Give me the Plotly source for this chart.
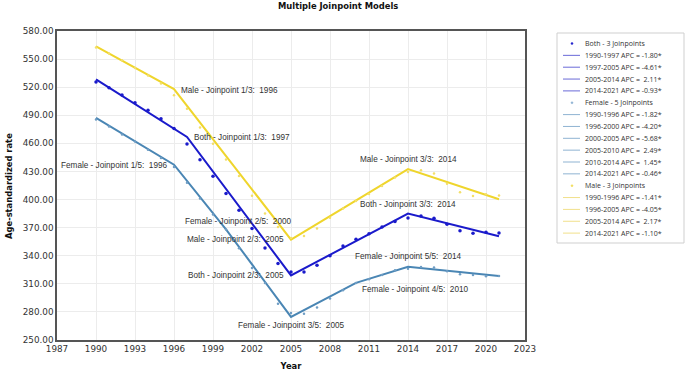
import plotly.graph_objects as go

# ---------------- data ----------------
years = list(range(1990, 2022))

both_obs = [525.5, 519.5, 511.6, 503.5, 495.3, 486.4, 476.0, 459.3, 442.6, 425.0,
            406.4, 388.5, 369.0, 348.3, 331.6, 322.6, 322.6, 329.8, 340.0, 350.4,
            357.5, 363.6, 370.7, 376.5, 380.3, 382.5, 380.0, 373.6, 366.8, 364.0,
            365.0, 364.3]
female_obs = [485.4, 478.0, 469.5, 461.9, 453.3, 444.5, 434.8, 418.0, 401.0, 384.0,
              368.0, 348.0, 327.0, 311.0, 288.8, 278.8, 278.0, 284.6, 294.2, 303.0,
              311.0, 315.0, 319.5, 324.4, 326.2, 328.0, 327.3, 323.5, 320.2, 319.4,
              318.2, 318.4]
male_obs = [562.5, 556.0, 548.7, 540.5, 532.5, 523.8, 511.3, 497.0, 477.0, 459.7,
            442.7, 425.2, 404.0, 385.0, 370.7, 359.0, 361.0, 369.0, 380.5, 390.4,
            398.5, 406.0, 414.5, 423.5, 429.5, 431.3, 427.7, 417.0, 407.7, 403.8,
            405.6, 404.2]

both_jp_years = [1990, 1997, 2005, 2014, 2021]
both_fit = [528.4, 466.8, 319.0, 385.0, 360.7]
female_jp_years = [1990, 1996, 2000, 2005, 2010, 2014, 2021]
female_fit = [487.3, 437.2, 368.2, 274.6, 311.0, 328.3, 318.4]
male_jp_years = [1990, 1996, 2005, 2014, 2021]
male_fit = [563.7, 518.0, 357.2, 432.5, 400.3]

both_apc = ["-1.80*", "-4.61*", " 2.11*", "-0.93*"]
female_apc = ["-1.82*", "-4.20*", "-5.68*", " 2.49*", " 1.45*", "-0.46*"]
male_apc = ["-1.41*", "-4.05*", " 2.17*", "-1.10*"]

x_ticks = list(range(1987, 2024, 3))
y_ticks = list(range(250, 581, 30))

# ---------------- style ----------------
C_BOTH = "#1a1acb"
C_FEM = "#4a86b4"
C_MALE = "#efd52c"
TXT = "#333333"
W, H = 685, 372
L, R, T, B = 57, 160, 31, 32
PW, PH = W - L - R, H - T - B

fig = go.Figure()

def add_series(name, obs, jy, fit, color, msize, mcolor):
    fig.add_trace(go.Scatter(x=jy, y=fit, mode="lines", name=name + " fit",
                             line=dict(color=color, width=2), showlegend=False,
                             hoverinfo="skip"))
    fig.add_trace(go.Scatter(x=years, y=obs, mode="markers", name=name,
                             marker=dict(color=mcolor, size=msize), showlegend=False))

add_series("Male", male_obs, male_jp_years, male_fit, C_MALE, 2.5, "#f3df6a")
add_series("Female", female_obs, female_jp_years, female_fit, C_FEM, 2.5, "#6f9dc4")
add_series("Both", both_obs, both_jp_years, both_fit, C_BOTH, 3.5, C_BOTH)

# joinpoint labels
def jp_label(text, x, y, xanchor, xshift, yshift):
    fig.add_annotation(x=x, y=y, xref="x", yref="y", text=text, showarrow=False,
                       xanchor=xanchor, yanchor="middle", xshift=xshift, yshift=yshift,
                       font=dict(family="Liberation Sans, Arial", size=8.2, color=TXT))

jp_label("Male - Joinpoint 1/3:  1996", male_jp_years[1], male_fit[1], "left", 5, -1)
jp_label("Both - Joinpoint 1/3:  1997", both_jp_years[1], both_fit[1], "left", 5, 0)
jp_label("Female - Joinpoint 1/5:  1996", female_jp_years[1], female_fit[1], "right", -5, -1)
jp_label("Female - Joinpoint 2/5:  2000", female_jp_years[2], female_fit[2], "center", 12, 8)
jp_label("Male - Joinpoint 2/3:  2005", male_jp_years[2], male_fit[2], "right", -5, 0)
jp_label("Both - Joinpoint 2/3:  2005", both_jp_years[2], both_fit[2], "right", -5, 0)
jp_label("Female - Joinpoint 3/5:  2005", female_jp_years[3], female_fit[3], "center", 0, -9)
jp_label("Female - Joinpoint 4/5:  2010", female_jp_years[4], female_fit[4], "left", 4, -7)
jp_label("Female - Joinpoint 5/5:  2014", female_jp_years[5], female_fit[5], "center", 0, 10)
jp_label("Both - Joinpoint 3/3:  2014", both_jp_years[3], both_fit[3], "center", 0, 9)
jp_label("Male - Joinpoint 3/3:  2014", male_jp_years[3], male_fit[3], "center", 0, 10)

# ---------------- manual legend ----------------
def px(xp):
    return (xp - L) / PW

def py(yp):
    return (H - B - yp) / PH

shapes = []
shapes.append(dict(type="rect", xref="paper", yref="paper",
                   x0=px(557), x1=px(684), y0=py(33), y1=py(243),
                   line=dict(color="#cfcfcf", width=1), fillcolor="white", layer="below"))

rows = []
def seg_rows(jy, apcs, color):
    out = []
    for i, a in enumerate(apcs):
        out.append(("line", f"{jy[i]}-{jy[i+1]} APC = {a}", color))
    return out

rows.append(("dot", "Both - 3 Joinpoints", C_BOTH))
rows += seg_rows(both_jp_years, both_apc, "#6a6ad8")
rows.append(("dot", "Female - 5 Joinpoints", "#8fb3d2"))
rows += seg_rows(female_jp_years, female_apc, "#8fb3d2")
rows.append(("dot", "Male - 3 Joinpoints", "#f1dc5a"))
rows += seg_rows(male_jp_years, male_apc, "#f1e08a")

y0 = 43.5
step = 11.85
for i, (kind, text, color) in enumerate(rows):
    yy = y0 + i * step
    if kind == "dot":
        shapes.append(dict(type="circle", xref="paper", yref="paper",
                           x0=px(571), x1=px(573), y0=py(yy - 1), y1=py(yy + 1),
                           line=dict(color=color, width=0.5), fillcolor=color))
    else:
        shapes.append(dict(type="line", xref="paper", yref="paper",
                           x0=px(563), x1=px(580), y0=py(yy), y1=py(yy),
                           line=dict(color=color, width=1)))
    fig.add_annotation(x=px(583), y=py(yy), xref="paper", yref="paper", text=text,
                       showarrow=False, xanchor="left", yanchor="middle",
                       font=dict(family="Open Sans", size=7.0, color=TXT))

grid = "#ececec"
axis_font = dict(family="DejaVu Sans", size=8.8, color=TXT)
title_font = dict(family="DejaVu Sans", size=8.4, color="#111")

# y-axis title placed precisely
fig.add_annotation(x=px(9), y=py(186), xref="paper", yref="paper",
                   text="<b>Age-standardized rate</b>", textangle=-90, showarrow=False,
                   xanchor="center", yanchor="middle", font=title_font)

fig.update_layout(
    width=W, height=H,
    margin=dict(l=L, r=R, t=T, b=B, autoexpand=False),
    paper_bgcolor="white", plot_bgcolor="white",
    shapes=shapes,
    showlegend=False,
    title=dict(text="<b>Multiple Joinpoint Models</b>", x=278 / W, xref="container",
               xanchor="left", y=1 - 6 / H, yanchor="middle", font=title_font),
    xaxis=dict(range=[1987, 2023], tickvals=x_ticks, ticktext=[str(v) for v in x_ticks],
               automargin=False,
               showgrid=True, gridcolor=grid, gridwidth=1, zeroline=False,
               showline=True, linecolor="#555", linewidth=1.5, mirror=True,
               ticks="", tickfont=axis_font,
               title=dict(text="<b>Year</b>", font=title_font, standoff=10)),
    yaxis=dict(range=[250, 580], tickvals=y_ticks, tickformat=".2f",
               automargin=False,
               showgrid=True, gridcolor=grid, gridwidth=1, zeroline=False,
               showline=True, linecolor="#555", linewidth=1.5, mirror=True,
               ticks="", tickfont=axis_font),
)

fig.write_html("out.html", config={"displayModeBar": False},
               post_script="document.body.style.margin='0px';")
